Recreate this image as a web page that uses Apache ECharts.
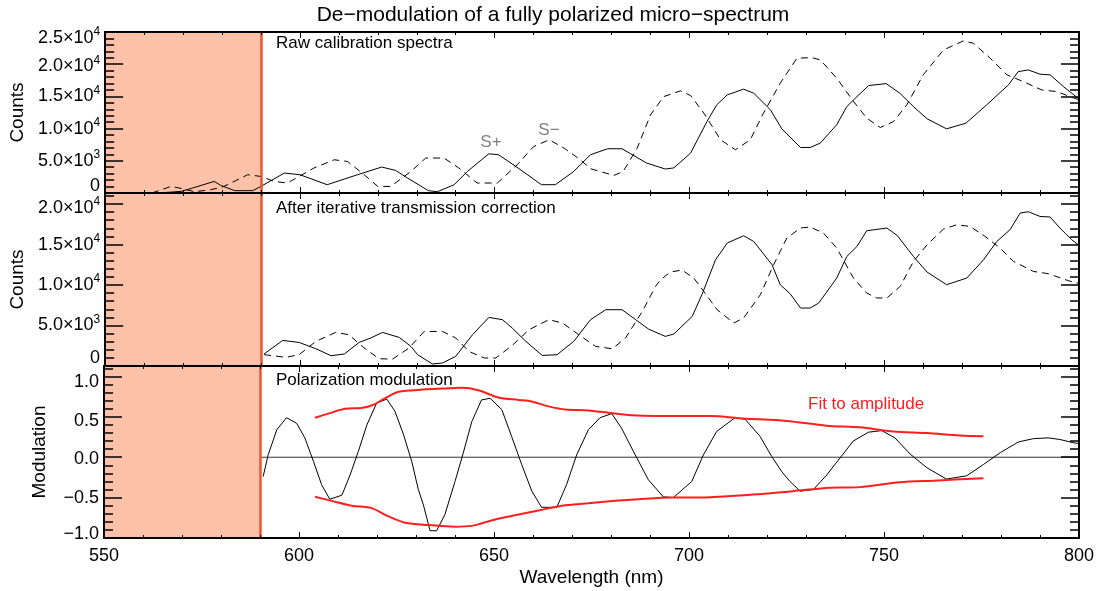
<!DOCTYPE html>
<html>
<head>
<meta charset="utf-8">
<script src="https://cdn.jsdelivr.net/npm/echarts@6/dist/echarts.min.js"></script>
<style>
  html, body { margin: 0; padding: 0; background: #fff; }
  #chart { width: 1111px; height: 591px; }
</style>
</head>
<body>
<div id="chart"></div>
<script>
// wavelength (nm), counts -- raw calibration spectra
var rawPlus = [[562,0],[566,100],[569.5,250],[572.5,780],[578,1800],[579.7,1180],[583.3,360],[587.9,360],[590.5,1200],[596,3100],[600,2840],[607,1290],[614.8,2840],[621,4030],[624.6,3500],[627.6,2330],[633,360],[635.3,200],[639.6,1290],[643,3350],[648.5,6090],[651,5940],[656,3880],[662,1290],[665.6,1290],[670.3,3350],[672,4390],[674.6,5940],[679,6870],[682.7,6870],[689,4650],[693.8,3720],[696,3900],[700.3,6200],[704.5,11100],[707,13690],[709.7,15240],[713.9,16120],[716.5,15500],[720.8,12910],[723.7,9960],[728.5,7070],[731,7070],[733.6,7750],[737.8,10590],[740.4,13420],[743,14970],[746,16680],[750.5,16990],[754,15500],[757.5,13420],[761,11520],[766,9960],[771,10850],[776.3,13690],[781.9,16790],[784.4,18850],[787,19110],[790,18450],[792.6,18340],[796,16520],[800,14600]];
var rawMinus = [[562,0],[566.9,1020],[569,780],[573,200],[577,500],[580,900],[582.3,1550],[586.6,2840],[590,2570],[593.4,1800],[596.8,1550],[603.6,3880],[608.8,5160],[612.2,4900],[616.5,2840],[620,1020],[623.3,1020],[628.5,3350],[632.3,5430],[637,5430],[640.8,3880],[645.5,1550],[650.7,1550],[655.8,4390],[660,7220],[664,8260],[667.8,6980],[672,5160],[674.6,3770],[677,3350],[680.6,2730],[683,3350],[686.6,6980],[690,12140],[693.4,14970],[697.7,15860],[700.3,15130],[703.7,12400],[708,8260],[711.8,6710],[715.6,8260],[719,12400],[723.3,17050],[727.6,20930],[731.4,21020],[733.6,20660],[737.8,17830],[742,14310],[745.5,11630],[749,10170],[752.4,11100],[755.8,13690],[760,18340],[765.2,22210],[770.3,23610],[772.9,23250],[777.2,20930],[781.5,18340],[785.7,17300],[790.4,16010],[794.3,15750],[800,14460]];

// after iterative transmission correction
var corrPlus = [[590.8,1480],[595.6,3160],[599.8,2910],[604.1,2130],[608,1270],[611.4,1480],[615.2,2910],[618.2,3460],[621.2,4150],[625.5,3530],[628.5,2420],[630.2,1400],[634,250],[636.6,370],[640,1190],[644.3,3860],[648.5,6000],[652,5720],[654.5,4690],[658,3040],[662.2,1310],[666,1390],[670.3,3040],[674.6,5720],[678.5,6950],[682.7,6950],[686.2,5720],[689.5,4560],[692.6,3900],[693.8,3660],[696,3950],[700.7,6120],[703.2,8800],[706.7,13120],[709.7,15180],[713.9,16090],[716.5,15380],[721.2,12500],[723.3,10040],[725.9,8890],[728.5,7160],[731,7160],[733.2,7780],[737.8,10860],[740.4,13530],[743,14770],[745.5,16700],[750.7,17040],[753.3,16130],[757.5,13530],[761,11600],[766,10040],[771.2,10860],[775.5,13120],[778.9,15380],[782.3,16830],[784.9,18890],[787,19050],[790,18470],[792.6,18400],[795.1,17040],[798.1,15600],[800,14900]];
var corrMinus = [[590.8,1400],[596.4,1070],[599.8,1400],[604.1,3040],[609.2,4150],[612.6,3860],[616,2420],[620.3,900],[623.8,850],[628,2220],[631.9,4270],[636.6,4270],[640,3460],[643.4,1800],[647.3,990],[650.3,990],[654.5,2540],[658.8,4480],[663.9,5720],[667.4,5310],[671.6,3860],[675.9,2420],[680.2,2130],[683.6,3460],[687.9,6740],[691.3,9830],[692.6,10650],[695.1,11600],[698.1,11850],[701.1,10860],[703.7,9210],[707.1,6950],[711.4,5310],[713.9,5930],[718.2,8800],[721.6,12500],[725,15800],[728.5,17040],[731,17160],[734.4,16420],[737.8,14570],[742.1,10860],[745.5,9010],[748.1,8400],[750.7,8400],[754.1,9830],[757.5,12910],[761,14970],[765.2,16910],[768.6,17440],[772,17240],[775.9,16000],[779.7,14570],[783.2,12910],[788.3,11680],[792.1,11400],[797.3,10530],[800,10200]];

// polarization modulation and amplitude fit
var modulation = [[590.8,-0.24],[592.1,0.03],[594.3,0.34],[596.8,0.49],[599.4,0.42],[601.5,0.24],[603.7,-0.05],[605.8,-0.34],[607.9,-0.52],[611,-0.47],[613.1,-0.22],[615.2,0.07],[617.4,0.40],[619.9,0.67],[622.5,0.72],[624.6,0.57],[626.8,0.28],[628.9,-0.05],[630.6,-0.40],[631.9,-0.59],[633.6,-0.91],[635.3,-0.91],[637.4,-0.71],[640,-0.30],[642.1,0.05],[644.3,0.44],[646.8,0.71],[649,0.73],[652,0.59],[654.5,0.26],[657.1,-0.09],[659.7,-0.42],[662.2,-0.62],[666.1,-0.62],[668.6,-0.34],[671.2,0.03],[674.2,0.34],[677.2,0.49],[680.2,0.54],[682.7,0.36],[686.2,0.03],[689.6,-0.28],[693.4,-0.49],[696,-0.50],[700.7,-0.30],[703.7,0.03],[707.1,0.32],[711.8,0.49],[714.4,0.47],[718.2,0.26],[721.2,0.01],[723.8,-0.18],[725.9,-0.30],[728.5,-0.42],[731.9,-0.40],[735.3,-0.22],[738.7,-0.01],[742.1,0.20],[746,0.31],[749.4,0.33],[752.8,0.24],[756.7,0.04],[761,-0.13],[766,-0.27],[771.2,-0.23],[775.5,-0.09],[779.9,0.06],[784.5,0.19],[788.3,0.23],[792.1,0.24],[795.1,0.22],[798.5,0.18],[800,0.17]];
var fitUpper = [[604.1,0.49],[607.5,0.54],[611.8,0.60],[616,0.61],[619.1,0.65],[622,0.73],[625.5,0.81],[629.7,0.83],[636.6,0.85],[641.7,0.86],[646,0.83],[651.1,0.74],[656.3,0.71],[659.7,0.69],[664,0.63],[668.3,0.59],[674.2,0.58],[679.3,0.55],[685.3,0.52],[691.3,0.51],[705.4,0.51],[713.9,0.48],[725,0.45],[735.3,0.39],[743.8,0.37],[752.4,0.32],[761,0.30],[769.5,0.27],[775.5,0.26]];
var fitLower = [[604.1,-0.49],[608.4,-0.54],[613.5,-0.60],[618.6,-0.63],[622.8,-0.73],[627.2,-0.81],[633.2,-0.84],[640,-0.86],[644.3,-0.85],[650.3,-0.77],[656.3,-0.71],[661.4,-0.66],[667.4,-0.60],[674.2,-0.57],[681,-0.54],[687,-0.52],[695.6,-0.50],[702.8,-0.50],[713.9,-0.47],[726.7,-0.42],[735.3,-0.38],[743.8,-0.37],[754.1,-0.31],[762.7,-0.29],[775.5,-0.26]];
var zeroLine = [[590,0],[800,0]];

// axis ranges / ticks
var xRange = [550, 800];
var cutoff = 590;
var countsRange1 = [0, 25000];
var countsRange2 = [0, 21364];
var modRange = [-1, 1.13];

var FONT = 'Liberation Sans';
var myChart = echarts.init(document.getElementById('chart'));

// rich text styles for y labels, key = vertical shift in px
var rich = {};
[-8, -7, -4, 0, 2, 4, 6].forEach(function (s) {
  var k = key(s);
  var top = s > 0 ? 2 * s : 0;
  rich['n' + k] = { fontSize: 18, lineHeight: 18, fontFamily: FONT, color: '#000',
    padding: s > 0 ? [top, 0, 0, 0] : [0, 0, -2 * s, 0] };
  rich['e' + k] = { fontSize: 12, lineHeight: 12, fontFamily: FONT, color: '#000',
    padding: [top, 0, 12, 0] };
});
function key(s) { return s < 0 ? 'm' + (-s) : 'p' + s; }

function sciLabel(shifts) {
  return function (v) {
    var s = shifts[v] || 0;
    if (v === 0) return '{n' + key(s) + '|0}';
    var e = Math.floor(Math.log10(v) + 1e-9);
    var m = (v / Math.pow(10, e)).toFixed(1);
    return '{n' + key(s) + '|' + m + '×10}{e' + key(s) + '|' + e + '}';
  };
}
function modLabel(v) {
  var shifts = { '1': 6, '0.5': 4, '0': 2, '-0.5': 0, '-1': -4 };
  var s = shifts[String(Math.round(v * 10) / 10)] || 0;
  var t = (Math.abs(v) < 1e-9 ? '0.0' : v.toFixed(1)).replace('-', '\u2212');
  return '{n' + key(s) + '|' + t + '}';
}

var grids = [
  { left: 104, right: 32, top: 32, height: 161 },
  { left: 104, right: 32, top: 193, height: 173 },
  { left: 104, right: 32, top: 366, height: 172 }
];

var frame = { show: true, onZero: false, lineStyle: { color: '#000', width: 2 } };

var xAxes = [];
var yAxes = [];
grids.forEach(function (g, i) {
  ['bottom', 'top'].forEach(function (pos) {
    var showLabel = (i === 2 && pos === 'bottom');
    xAxes.push({
      type: 'value', gridIndex: i, position: pos, z: 5,
      min: xRange[0], max: xRange[1], interval: 50,
      axisLine: frame,
      axisTick: { inside: true, length: 6, lineStyle: { color: '#000', width: 1 } },
      minorTick: { show: true, splitNumber: 5, length: 3, lineStyle: { color: '#000', width: 1 } },
      splitLine: { show: false },
      axisLabel: { show: showLabel, margin: 9, fontSize: 18, fontFamily: FONT, color: '#000' },
      name: showLabel ? 'Wavelength (nm)' : '',
      nameLocation: 'middle', nameGap: 30,
      nameTextStyle: { fontSize: 19, fontFamily: FONT, color: '#000' }
    });
  });
});

var yDefs = [
  { range: countsRange1, interval: 5000, name: 'Counts', gap: 77, fmt: sciLabel({ 0: -7, 25000: 6, 20000: 2 }) },
  { range: countsRange2, interval: 5000, name: 'Counts', gap: 77, fmt: sciLabel({ 0: -8, 20000: 4 }) },
  { range: modRange, interval: 0.5, name: 'Modulation', gap: 55, fmt: modLabel }
];
yDefs.forEach(function (d, i) {
  ['left', 'right'].forEach(function (pos) {
    var left = pos === 'left';
    yAxes.push({
      type: 'value', gridIndex: i, position: pos, z: 5,
      min: d.range[0], max: d.range[1], interval: d.interval,
      axisLine: frame,
      axisTick: { inside: true, length: 18, lineStyle: { color: '#000', width: 1.5 } },
      minorTick: { show: true, splitNumber: 5, length: 9, lineStyle: { color: '#000', width: 1.5 } },
      splitLine: { show: false },
      axisLabel: { show: left, margin: 5, showMaxLabel: i === 0, formatter: d.fmt, rich: rich },
      name: left ? d.name : '',
      nameLocation: 'middle', nameGap: d.gap,
      nameTextStyle: { fontSize: 19, fontFamily: FONT, color: '#000' }
    });
  });
});

function line(data, i, opts) {
  return Object.assign({
    type: 'line', data: data, xAxisIndex: 2 * i, yAxisIndex: 2 * i,
    symbol: 'none', animation: false, z: 3,
    lineStyle: { color: '#000', width: 1 }
  }, opts || {});
}

var series = [];
// shaded excluded region and cutoff marker in every panel
[0, 1, 2].forEach(function (i) {
  series.push(line([], i, {
    z: 1,
    markArea: { silent: true, itemStyle: { color: '#FCC1A9' }, data: [[{ xAxis: xRange[0] }, { xAxis: cutoff }]] },
    markLine: { silent: true, symbol: 'none', label: { show: false },
      lineStyle: { color: '#F2542D', width: 2.5, type: 'solid' }, data: [{ xAxis: cutoff }] }
  }));
});
series.push(line(rawPlus, 0));
series.push(line(rawMinus, 0, { lineStyle: { color: '#000', width: 1, type: [7, 5] } }));
series.push(line(corrPlus, 1));
series.push(line(corrMinus, 1, { lineStyle: { color: '#000', width: 1, type: [7, 5] } }));
series.push(line(zeroLine, 2, { lineStyle: { color: '#333', width: 1 } }));
series.push(line(modulation, 2));
series.push(line(fitUpper, 2, { smooth: 0.3, lineStyle: { color: '#FF1E1E', width: 2 } }));
series.push(line(fitLower, 2, { smooth: 0.3, lineStyle: { color: '#FF1E1E', width: 2 } }));

function txt(x, y, text, size, color, align) {
  return { type: 'text', x: x, y: y, z: 10,
    style: { text: text, fontSize: size, fontFamily: FONT, fill: color || '#000',
      align: align || 'left', verticalAlign: 'middle' } };
}

var option = {
  backgroundColor: '#fff',
  animation: false,
  grid: grids,
  xAxis: xAxes,
  yAxis: yAxes,
  series: series,
  graphic: [
    txt(553, 15, 'De\u2212modulation of a fully polarized micro\u2212spectrum', 21, '#000', 'center'),
    txt(276, 43, 'Raw calibration spectra', 17),
    txt(276, 208, 'After iterative transmission correction', 17),
    txt(276, 380, 'Polarization modulation', 17),
    txt(808, 404, 'Fit to amplitude', 17, '#FF1E1E'),
    txt(491, 142, 'S+', 17, '#808080', 'center'),
    txt(549, 130, 'S\u2212', 17, '#808080', 'center')
  ]
};
myChart.setOption(option);
window.addEventListener('resize', function () { myChart.resize(); });
</script>
</body>
</html>
